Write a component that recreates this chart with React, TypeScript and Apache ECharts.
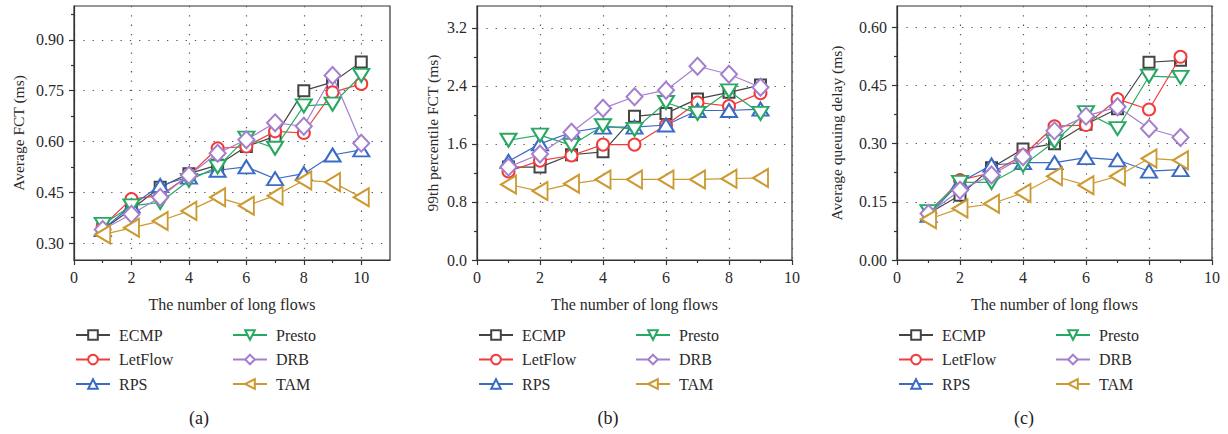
import React, { useEffect, useRef } from "react";
import * as echarts from "echarts";

// ---------------- data ----------------
const SERIES_NAMES = ["ECMP", "LetFlow", "RPS", "Presto", "DRB", "TAM"];

const X_A = [1, 2, 3, 4, 5, 6, 7, 8, 9, 10];
const X_BC = [1, 2, 3, 4, 5, 6, 7, 8, 9];

// (a) Average FCT (ms)
const ECMP_A = [0.34, 0.4, 0.465, 0.505, 0.53, 0.585, 0.615, 0.75, 0.775, 0.835];
const LETFLOW_A = [0.35, 0.43, 0.44, 0.5, 0.58, 0.585, 0.63, 0.625, 0.745, 0.77];
const RPS_A = [0.34, 0.41, 0.47, 0.495, 0.515, 0.525, 0.49, 0.505, 0.56, 0.575];
const PRESTO_A = [0.355, 0.41, 0.42, 0.485, 0.525, 0.61, 0.58, 0.705, 0.71, 0.795];
const DRB_A = [0.34, 0.385, 0.435, 0.5, 0.565, 0.605, 0.655, 0.645, 0.795, 0.595];
const TAM_A = [0.325, 0.345, 0.365, 0.395, 0.435, 0.41, 0.44, 0.485, 0.48, 0.435];

// (b) 99th percentile FCT (ms)
const ECMP_B = [1.28, 1.28, 1.45, 1.49, 1.98, 2.02, 2.22, 2.31, 2.41];
const LETFLOW_B = [1.22, 1.37, 1.44, 1.59, 1.59, 1.86, 2.17, 2.12, 2.3];
const RPS_B = [1.36, 1.6, 1.76, 1.83, 1.83, 1.86, 2.06, 2.06, 2.08];
const PRESTO_B = [1.65, 1.72, 1.58, 1.85, 1.8, 2.17, 2.02, 2.33, 2.02];
const DRB_B = [1.28, 1.46, 1.76, 2.09, 2.25, 2.34, 2.67, 2.56, 2.38];
const TAM_B = [1.04, 0.95, 1.05, 1.11, 1.11, 1.11, 1.11, 1.12, 1.13];

// (c) Average queuing delay (ms)
const ECMP_C = [0.12, 0.167, 0.238, 0.286, 0.3, 0.35, 0.39, 0.51, 0.515];
const LETFLOW_C = [0.12, 0.206, 0.225, 0.27, 0.345, 0.348, 0.415, 0.388, 0.524];
const RPS_C = [0.115, 0.2, 0.245, 0.251, 0.251, 0.264, 0.258, 0.229, 0.233];
const PRESTO_C = [0.125, 0.2, 0.2, 0.244, 0.305, 0.38, 0.339, 0.474, 0.471];
const DRB_C = [0.12, 0.18, 0.219, 0.266, 0.333, 0.371, 0.395, 0.339, 0.316];
const TAM_C = [0.105, 0.133, 0.145, 0.173, 0.216, 0.193, 0.216, 0.262, 0.257];

// ticks
const X_TICKS_A = [0, 2, 4, 6, 8, 10];
const X_MINOR_A = [1, 3, 5, 7, 9];
const X_TICKS_BC = [0, 2, 4, 6, 8, 10];
const X_MINOR_BC = [1, 3, 5, 7, 9];
const Y_TICKS_A = [0.3, 0.45, 0.6, 0.75, 0.9];
const Y_MINOR_A = [0.375, 0.525, 0.675, 0.825, 0.975];
const Y_TICKS_B = [0, 0.8, 1.6, 2.4, 3.2];
const Y_MINOR_B = [0.4, 1.2, 2.0, 2.8];
const Y_TICKS_C = [0, 0.15, 0.3, 0.45, 0.6];
const Y_MINOR_C = [0.075, 0.225, 0.375, 0.525];

const X_TITLE = "The number of long flows";
const Y_TITLES = ["Average FCT (ms)", "99th percentile FCT (ms)", "Average queuing delay (ms)"];
const CAPTIONS = ["(a)", "(b)", "(c)"];

// ---------------- styles ----------------
const COLORS = ["#444444", "#f03c3c", "#3a6bc6", "#28a862", "#a57fcf", "#cc9a30"];
const SYMBOLS = ["emptyRect", "emptyCircle", "emptyTriangle", "emptyTriangle", "emptyDiamond", "emptyTriangle"];
const ROTATES = [0, 0, 0, 180, 0, 90];
const SIZES: any[] = [11, 12, [16, 13], [16, 13], [16, 17], [18, 15]];

const FONT = "'Liberation Serif', 'DejaVu Serif', serif";
const AX = "#333333";
const TXT = "#2a2a2a";

const PANELS = [
  { left: 74, width: 316, xMax: 11, yMin: 0.25, yMax: 1.0, xTicks: X_TICKS_A, xMinor: X_MINOR_A, yTicks: Y_TICKS_A, yMinor: Y_MINOR_A, yDigits: 2, yGap: 48, xs: X_A, data: [ECMP_A, LETFLOW_A, RPS_A, PRESTO_A, DRB_A, TAM_A], capX: 199 },
  { left: 477, width: 315, xMax: 10, yMin: 0, yMax: 3.5, xTicks: X_TICKS_BC, xMinor: X_MINOR_BC, yTicks: Y_TICKS_B, yMinor: Y_MINOR_B, yDigits: 1, yGap: 37, xs: X_BC, data: [ECMP_B, LETFLOW_B, RPS_B, PRESTO_B, DRB_B, TAM_B], capX: 608 },
  { left: 897, width: 315, xMax: 10, yMin: 0, yMax: 0.655, xTicks: X_TICKS_BC, xMinor: X_MINOR_BC, yTicks: Y_TICKS_C, yMinor: Y_MINOR_C, yDigits: 2, yGap: 53, xs: X_BC, data: [ECMP_C, LETFLOW_C, RPS_C, PRESTO_C, DRB_C, TAM_C], capX: 1024 },
];

const GRID_TOP = 6;
const GRID_H = 254;

export default function App() {
  const ref = useRef<HTMLDivElement>(null);

  useEffect(() => {
    if (!ref.current) return;
    const chart = echarts.init(ref.current, null, { renderer: "svg" });

    const grid: any[] = [];
    const xAxis: any[] = [];
    const yAxis: any[] = [];
    const series: any[] = [];
    const legend: any[] = [];
    const graphic: any[] = [];

    const splitStyle = { type: [1.3, 8], color: "#555", width: 1.2 };

    PANELS.forEach((p, i) => {
      grid.push({
        left: p.left,
        top: GRID_TOP,
        width: p.width,
        height: GRID_H,
        show: true,
        borderColor: AX,
        borderWidth: 1.2,
        backgroundColor: "transparent",
      });
      // main x axis
      xAxis.push({
        type: "value",
        gridIndex: i,
        min: 0,
        max: p.xMax,
        position: "bottom",
        name: X_TITLE,
        nameLocation: "middle",
        nameGap: 36,
        nameTextStyle: { fontSize: 16, fontFamily: FONT, color: TXT },
        axisLine: { show: true, onZero: false, lineStyle: { color: AX, width: 1.2 } },
        axisTick: { show: true, inside: false, length: 5, customValues: p.xTicks, lineStyle: { color: AX, width: 1.2 } },
        axisLabel: { customValues: p.xTicks, margin: 9, fontSize: 16, fontFamily: FONT, color: TXT, formatter: (v: number) => String(v) },
        splitLine: { show: true, lineStyle: splitStyle },
      });
      // minor x ticks
      xAxis.push({
        type: "value",
        gridIndex: i,
        min: 0,
        max: p.xMax,
        position: "bottom",
        offset: 0,
        axisLine: { show: false, onZero: false },
        axisTick: { show: true, inside: false, length: 3, customValues: p.xMinor, lineStyle: { color: AX, width: 1.2 } },
        axisLabel: { show: false },
        splitLine: { show: false },
      });
      // main y axis
      yAxis.push({
        type: "value",
        gridIndex: i,
        min: p.yMin,
        max: p.yMax,
        position: "left",
        name: Y_TITLES[i],
        nameLocation: "middle",
        nameGap: p.yGap,
        nameRotate: 90,
        nameTextStyle: { fontSize: 15.5, fontFamily: FONT, color: TXT },
        axisLine: { show: true, onZero: false, lineStyle: { color: AX, width: 1.2 } },
        axisTick: { show: true, inside: false, length: 5, customValues: p.yTicks, lineStyle: { color: AX, width: 1.2 } },
        axisLabel: { customValues: p.yTicks, margin: 10, fontSize: 16, fontFamily: FONT, color: TXT, formatter: (v: number) => v.toFixed(p.yDigits) },
        splitLine: { show: true, lineStyle: splitStyle },
      });
      // minor y ticks
      yAxis.push({
        type: "value",
        gridIndex: i,
        min: p.yMin,
        max: p.yMax,
        position: "left",
        offset: 0,
        axisLine: { show: false, onZero: false },
        axisTick: { show: true, inside: false, length: 3, customValues: p.yMinor, lineStyle: { color: AX, width: 1.2 } },
        axisLabel: { show: false },
        splitLine: { show: false },
      });

      SERIES_NAMES.forEach((name, k) => {
        series.push({
          type: "line",
          name,
          xAxisIndex: i * 2,
          yAxisIndex: i * 2,
          data: p.xs.map((x, j) => [x, p.data[k][j]]),
          symbol: SYMBOLS[k],
          symbolSize: SIZES[k],
          symbolRotate: ROTATES[k],
          showAllSymbol: true,
          lineStyle: { color: COLORS[k], width: 1.2 },
          itemStyle: { color: COLORS[k], borderColor: COLORS[k], borderWidth: 1.3 },
          emphasis: { disabled: true },
          z: 2 + k,
        });
      });

      const legendBase = {
        orient: "vertical",
        top: 327,
        padding: 0,
        itemWidth: 34,
        itemHeight: 12,
        itemGap: 8.5,
        selectedMode: false,
        textStyle: { fontSize: 16, fontFamily: FONT, color: TXT, lineHeight: 15, padding: [0, 0, 0, 4] },
      };
      legend.push({ ...legendBase, left: p.left + 1, data: SERIES_NAMES.slice(0, 3) });
      legend.push({ ...legendBase, left: p.left + 158, data: SERIES_NAMES.slice(3, 6) });

      graphic.push({
        type: "text",
        x: p.capX,
        y: 418,
        style: { text: CAPTIONS[i], align: "center", verticalAlign: "middle", fontSize: 18, fontFamily: FONT, fill: "#222" },
      });
    });

    chart.setOption({
      animation: false,
      backgroundColor: "#ffffff",
      grid,
      xAxis,
      yAxis,
      series,
      legend,
      graphic,
    });

    return () => chart.dispose();
  }, []);

  return (
    <div
      ref={ref}
      style={{ position: "absolute", left: 0, top: 0, width: 1228, height: 434 }}
    />
  );
}
